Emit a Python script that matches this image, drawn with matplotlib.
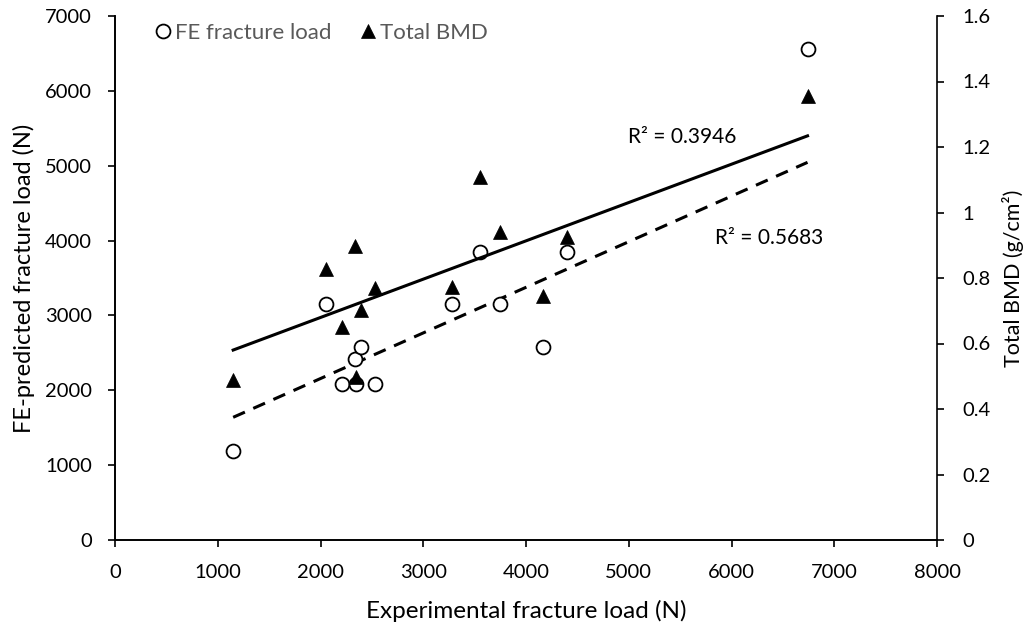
import numpy as np
import matplotlib
matplotlib.use("Agg")
import matplotlib.pyplot as plt
from matplotlib.lines import Line2D

# Data
exp_load = [1150, 2050, 2210, 2340, 2345, 2390, 2535, 3280, 3550, 3745, 4165, 4400, 6740]
fe_load = [1190, 3150, 2090, 2420, 2090, 2580, 2090, 3150, 3850, 3150, 2575, 3850, 6555]
bmd = [0.489, 0.827, 0.651, 0.898, 0.499, 0.702, 0.769, 0.773, 1.109, 0.941, 0.745, 0.924, 1.357]

# Trend lines as shown in the reference (end points)
trend_x = [1150, 6740]
fe_trend = [1639, 5045]
bmd_trend = [0.580, 1.234]
r2_bmd = "R² = 0.3946"
r2_fe = "R² = 0.5683"

x_ticks = [0, 1000, 2000, 3000, 4000, 5000, 6000, 7000, 8000]
y_ticks = [0, 1000, 2000, 3000, 4000, 5000, 6000, 7000]
y2_ticks = [0, 0.2, 0.4, 0.6, 0.8, 1.0, 1.2, 1.4, 1.6]
y2_labels = ["0", "0.2", "0.4", "0.6", "0.8", "1", "1.2", "1.4", "1.6"]

plt.rcParams['font.family'] = ['Lato', 'DejaVu Sans']

fig = plt.figure(figsize=(10.28, 6.28), dpi=100)
ax = fig.add_axes([115/1028, 88/628, 822/1028, 524/628])
ax2 = ax.twinx()

ax.plot(trend_x, fe_trend, color='black', lw=2.2, ls=(0, (4.2, 3.0)), zorder=2)
ax2.plot(trend_x, bmd_trend, color='black', lw=2.2, ls='-', zorder=2)

circ = dict(marker='o', mfc='white', mec='black', mew=1.3, ms=10, ls='none')
tri = dict(marker='^', mfc='black', mec='black', mew=0.5, ms=10.5, ls='none')
ax.plot(exp_load, fe_load, zorder=3, **circ)
ax2.plot(exp_load, bmd, zorder=3, **tri)

ax.set_xlim(0, 8000)
ax.set_ylim(0, 7000)
ax2.set_ylim(0, 1.6)
ax.set_xticks(x_ticks)
ax.set_yticks(y_ticks)
ax2.set_yticks(y2_ticks)
ax2.set_yticklabels(y2_labels)

for a in (ax, ax2):
    a.spines['top'].set_visible(False)
    a.tick_params(direction='out', length=5, width=1.2, labelsize=14.5, colors='black')
    for s in a.spines.values():
        s.set_linewidth(1.2)
ax.tick_params(axis='x', pad=12.2)
ax.tick_params(axis='y', pad=11.5)
ax2.tick_params(axis='y', pad=13.5)
ax.spines['right'].set_visible(False)

ax.set_xlabel('Experimental fracture load (N)', fontsize=17.5, labelpad=14)
ax.set_ylabel('FE-predicted fracture load (N)', fontsize=17, labelpad=7)
ax2.set_ylabel('Total BMD (g/cm²)', fontsize=15.5, labelpad=8)

ax.text(4993, 5383, r2_bmd, fontsize=15, va='center', ha='left')
ax.text(5839, 4034, r2_fe, fontsize=15, va='center', ha='left')

handles = [Line2D([], [], **circ), Line2D([], [], **tri)]
leg = fig.legend(handles, ['FE fracture load', 'Total BMD'], loc='center left',
                 bbox_to_anchor=(154/1028, 1 - 33/628), ncol=2, frameon=False, fontsize=16,
                 borderpad=0, borderaxespad=0, handletextpad=0.15, columnspacing=1.23,
                 handlelength=0.8)
for t in leg.get_texts():
    t.set_color('#595959')

fig.savefig('out.png', dpi=100)
